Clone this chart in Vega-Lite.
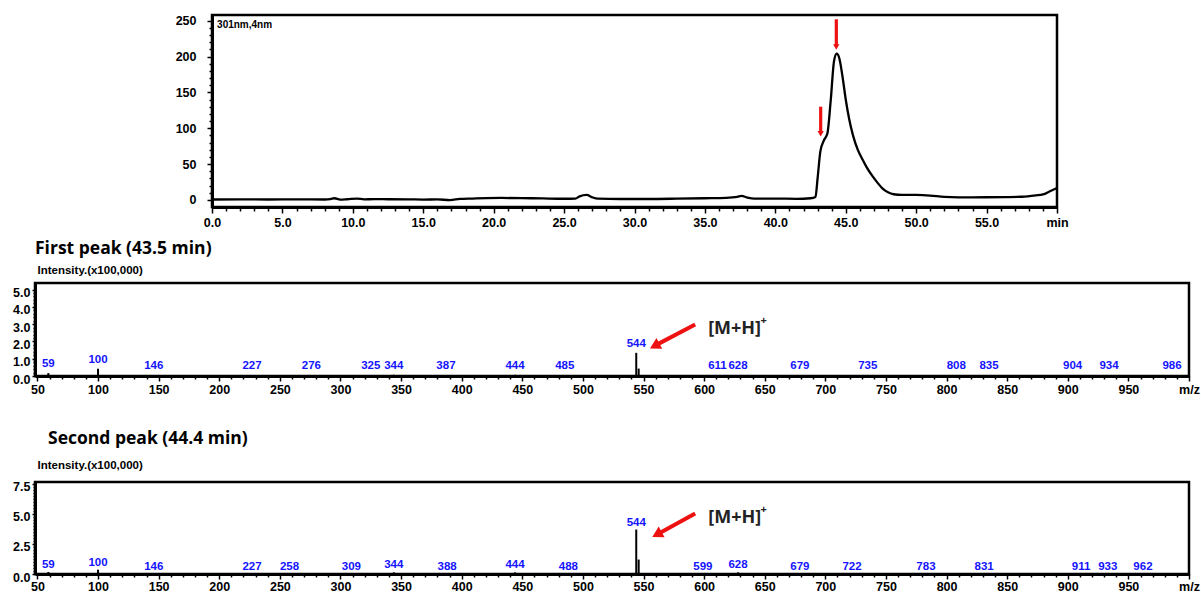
{
  "$schema": "https://vega.github.io/schema/vega-lite/v6.json",
  "padding": {"left": 11, "top": 13, "right": 0, "bottom": 0},
  "background": "white",
  "datasets": {
    "chrom": [
      {"t": 0, "v": 0.5}, {"t": 2, "v": 0.6}, {"t": 4, "v": 0.5}, {"t": 6, "v": 0.6}, {"t": 8, "v": 0.5},
      {"t": 8.4, "v": 1}, {"t": 8.7, "v": 2.2}, {"t": 9.1, "v": 0.3}, {"t": 9.6, "v": 0.8}, {"t": 10.3, "v": 1.8},
      {"t": 10.8, "v": 0.6}, {"t": 11.5, "v": 1}, {"t": 12.5, "v": 0.8}, {"t": 14, "v": 0.6}, {"t": 15, "v": 0.4},
      {"t": 16, "v": 0.6}, {"t": 16.9, "v": -0.3}, {"t": 17.6, "v": 1.2}, {"t": 18.5, "v": 1.8}, {"t": 19.5, "v": 2.4},
      {"t": 20.5, "v": 2.6}, {"t": 22, "v": 2.4}, {"t": 23.5, "v": 1.9}, {"t": 25, "v": 1.5}, {"t": 25.8, "v": 1.8},
      {"t": 26.1, "v": 4.8}, {"t": 26.6, "v": 6.8}, {"t": 27.0, "v": 3.5}, {"t": 27.4, "v": 1.6}, {"t": 29, "v": 1.2},
      {"t": 31, "v": 1.2}, {"t": 33, "v": 1.6}, {"t": 35, "v": 2.2}, {"t": 36.5, "v": 2.8}, {"t": 37.3, "v": 4.2},
      {"t": 37.6, "v": 5.5}, {"t": 38.0, "v": 3.2}, {"t": 38.5, "v": 1.6}, {"t": 40, "v": 1.8}, {"t": 41.5, "v": 1.4},
      {"t": 42.5, "v": 2.2}, {"t": 42.85, "v": 4}, {"t": 43.0, "v": 30}, {"t": 43.2, "v": 68}, {"t": 43.45, "v": 83},
      {"t": 43.7, "v": 93}, {"t": 43.93, "v": 138}, {"t": 44.17, "v": 194}, {"t": 44.36, "v": 204}, {"t": 44.55, "v": 197},
      {"t": 44.8, "v": 168}, {"t": 45.0, "v": 140}, {"t": 45.25, "v": 112}, {"t": 45.5, "v": 91}, {"t": 45.85, "v": 70},
      {"t": 46.2, "v": 56}, {"t": 46.5, "v": 45}, {"t": 46.9, "v": 33}, {"t": 47.25, "v": 24}, {"t": 47.6, "v": 16},
      {"t": 48.0, "v": 10.5}, {"t": 48.4, "v": 7.8}, {"t": 49, "v": 6.8}, {"t": 50, "v": 6.8}, {"t": 51, "v": 6},
      {"t": 52, "v": 4}, {"t": 53, "v": 3.5}, {"t": 55, "v": 3.6}, {"t": 56.5, "v": 3.8}, {"t": 57.5, "v": 4.3},
      {"t": 58.5, "v": 6.2}, {"t": 59.0, "v": 7.5}, {"t": 59.5, "v": 12}, {"t": 60, "v": 16.5}
    ],
    "chromArrows": [
      {"t": 44.33, "top": 252, "head": 213.3},
      {"t": 43.22, "top": 130, "head": 92.4}
    ],
    "peaks1": [
      {"mz": 59, "i": 0.17, "labeled": true}, {"mz": 100, "i": 0.42, "labeled": true},
      {"mz": 146, "i": 0.03, "labeled": true}, {"mz": 227, "i": 0.03, "labeled": true},
      {"mz": 276, "i": 0.03, "labeled": true}, {"mz": 325, "i": 0.03, "labeled": true},
      {"mz": 344, "i": 0.07, "labeled": true}, {"mz": 387, "i": 0.03, "labeled": true},
      {"mz": 444, "i": 0.07, "labeled": true}, {"mz": 485, "i": 0.03, "labeled": true},
      {"mz": 544, "i": 1.34, "labeled": true}, {"mz": 546, "i": 0.43, "labeled": false},
      {"mz": 611, "i": 0.03, "labeled": true}, {"mz": 628, "i": 0.03, "labeled": true},
      {"mz": 679, "i": 0.03, "labeled": true}, {"mz": 735, "i": 0.03, "labeled": true},
      {"mz": 808, "i": 0.03, "labeled": true}, {"mz": 835, "i": 0.03, "labeled": true},
      {"mz": 904, "i": 0.03, "labeled": true}, {"mz": 934, "i": 0.03, "labeled": true},
      {"mz": 986, "i": 0.03, "labeled": true}
    ],
    "peaks2": [
      {"mz": 59, "i": 0.17, "labeled": true}, {"mz": 100, "i": 0.36, "labeled": true},
      {"mz": 146, "i": 0.03, "labeled": true}, {"mz": 227, "i": 0.03, "labeled": true},
      {"mz": 258, "i": 0.03, "labeled": true}, {"mz": 309, "i": 0.03, "labeled": true},
      {"mz": 344, "i": 0.14, "labeled": true}, {"mz": 388, "i": 0.03, "labeled": true},
      {"mz": 444, "i": 0.14, "labeled": true}, {"mz": 488, "i": 0.03, "labeled": true},
      {"mz": 544, "i": 3.7, "labeled": true}, {"mz": 546, "i": 1.2, "labeled": false},
      {"mz": 599, "i": 0.03, "labeled": true}, {"mz": 628, "i": 0.14, "labeled": true},
      {"mz": 679, "i": 0.03, "labeled": true}, {"mz": 722, "i": 0.03, "labeled": true},
      {"mz": 783, "i": 0.03, "labeled": true}, {"mz": 831, "i": 0.03, "labeled": true},
      {"mz": 911, "i": 0.03, "labeled": true}, {"mz": 933, "i": 0.03, "labeled": true},
      {"mz": 962, "i": 0.03, "labeled": true}
    ],
    "arrow1": [{"mz1": 592.6, "i1": 2.98, "mz2": 560.6, "i2": 1.8, "hmz": 559.2, "hi": 1.74}],
    "arrow2": [{"mz1": 592.6, "i1": 5.04, "mz2": 562.6, "i2": 3.37, "hmz": 561.1, "hi": 3.29}],
    "ion1": [{"mz": 603.3, "i": 2.72, "sup_mz": 646.5, "sup_i": 3.2}],
    "ion2": [{"mz": 603.5, "i": 4.68, "sup_mz": 646.5, "sup_i": 5.3}]
  },
  "config": {
    "font": "Liberation Sans",
    "view": {"stroke": "black", "strokeWidth": 2.5},
    "axis": {
      "grid": false,
      "domainColor": "black",
      "domainWidth": 3,
      "tickColor": "black",
      "tickWidth": 1.5,
      "labelFont": "Liberation Sans",
      "labelFontWeight": "bold",
      "labelFontSize": 12.5,
      "labelColor": "black",
      "labelOverlap": false,
      "labelFlush": false,
      "labelBound": false
    }
  },
  "vconcat": [
    {
      "spacing": 8,
      "vconcat": [
        {
          "spacing": 0,
          "hconcat": [
            {
              "width": 138,
              "height": 10,
              "view": {"stroke": null},
              "data": {"values": []},
              "mark": "rule",
              "encoding": {}
            },
            {
              "width": 845,
              "height": 192,
              "layer": [
                {
                  "data": {"name": "chrom"},
                  "mark": {"type": "line", "color": "black", "strokeWidth": 2.3, "interpolate": "monotone"},
                  "encoding": {
                    "x": {
                      "field": "t", "type": "quantitative",
                      "scale": {"domain": [0, 60], "nice": false, "zero": false},
                      "axis": {
                        "title": null,
                        "labelOverlap": false,
                        "tickCount": 1000,
                        "values": [0,1,2,3,4,5,6,7,8,9,10,11,12,13,14,15,16,17,18,19,20,21,22,23,24,25,26,27,28,29,30,31,32,33,34,35,36,37,38,39,40,41,42,43,44,45,46,47,48,49,50,51,52,53,54,55,56,57,58,59,60],
                        "labelExpr": "datum.value === 60 ? 'min' : (datum.value % 5 === 0 ? format(datum.value, '.1f') : '')",
                        "tickSize": {"condition": {"test": "datum.value % 5 === 0", "value": 6}, "value": 4},
                        "labelPadding": 3
                      }
                    },
                    "y": {
                      "field": "v", "type": "quantitative",
                      "scale": {"domain": [-10, 258], "nice": false, "zero": false},
                      "axis": {
                        "title": null,
                        "labelOverlap": false,
                        "tickCount": 1000,
                        "values": [0,10,20,30,40,50,60,70,80,90,100,110,120,130,140,150,160,170,180,190,200,210,220,230,240,250],
                        "labelExpr": "datum.value % 50 === 0 ? format(datum.value, 'd') : ''",
                        "tickSize": {"condition": {"test": "datum.value % 50 === 0", "value": 5}, "value": 3},
                        "labelPadding": 11
                      }
                    }
                  }
                },
                {
                  "data": {"name": "chromArrows"},
                  "mark": {"type": "rule", "color": "#ee1111", "strokeWidth": 3.2},
                  "encoding": {
                    "x": {"field": "t", "type": "quantitative"},
                    "y": {"field": "top", "type": "quantitative"},
                    "y2": {"field": "head"}
                  }
                },
                {
                  "data": {"name": "chromArrows"},
                  "mark": {"type": "point", "shape": "triangle-down", "filled": true, "color": "#ee1111", "size": 40, "opacity": 1},
                  "encoding": {
                    "x": {"field": "t", "type": "quantitative"},
                    "y": {"field": "head", "type": "quantitative"}
                  }
                },
                {
                  "data": {"values": [{"t": 0.36, "v": 244, "note": "301nm,4nm"}]},
                  "mark": {"type": "text", "align": "left", "baseline": "middle", "fontSize": 10, "fontWeight": "bold", "color": "black"},
                  "encoding": {
                    "x": {"field": "t", "type": "quantitative"},
                    "y": {"field": "v", "type": "quantitative"},
                    "text": {"field": "note"}
                  }
                }
              ]
            }
          ]
        },
        {
          "width": 1154,
          "height": 93,
          "title": {"text": "First peak (43.5 min)", "anchor": "start", "frame": "group", "font": "Open Sans", "fontSize": 17.5, "fontWeight": "bold", "color": "black", "offset": 7},
          "layer": [
            {
              "data": {"name": "peaks1"},
              "mark": {"type": "rule", "color": "black", "strokeWidth": 2},
              "encoding": {
                "x": {
                  "field": "mz", "type": "quantitative",
                  "scale": {"domain": [48, 1000], "nice": false, "zero": false},
                  "axis": {
                    "title": null,
                    "labelOverlap": false,
                    "tickCount": 1000,
                    "values": [50,60,70,80,90,100,110,120,130,140,150,160,170,180,190,200,210,220,230,240,250,260,270,280,290,300,310,320,330,340,350,360,370,380,390,400,410,420,430,440,450,460,470,480,490,500,510,520,530,540,550,560,570,580,590,600,610,620,630,640,650,660,670,680,690,700,710,720,730,740,750,760,770,780,790,800,810,820,830,840,850,860,870,880,890,900,910,920,930,940,950,960,970,980,990,1000],
                    "labelExpr": "datum.value === 1000 ? 'm/z' : (datum.value % 50 === 0 ? format(datum.value, 'd') : '')",
                    "tickSize": {"condition": {"test": "datum.value % 50 === 0", "value": 5}, "value": 3},
                    "labelPadding": 2
                  }
                },
                "y": {
                  "field": "i", "type": "quantitative",
                  "scale": {"domain": [0, 5.38], "nice": false, "zero": false},
                  "axis": {
                    "title": "Intensity.(x100,000)",
                    "titleAngle": 0, "titleAlign": "left", "titleBaseline": "middle",
                    "titleX": 2, "titleY": -12.7,
                    "titleFont": "Liberation Sans", "titleFontSize": 11.5, "titleFontWeight": "bold", "titleColor": "black",
                    "labelOverlap": false,
                    "tickCount": 1000,
                    "values": [0,0.2,0.4,0.6,0.8,1,1.2,1.4,1.6,1.8,2,2.2,2.4,2.6,2.8,3,3.2,3.4,3.6,3.8,4,4.2,4.4,4.6,4.8,5],
                    "labelExpr": "abs(datum.value - round(datum.value)) < 0.000001 ? format(datum.value, '.1f') : ''",
                    "tickSize": {"condition": {"test": "abs(datum.value - round(datum.value)) < 0.000001", "value": 3}, "value": 2},
                    "labelPadding": 2,
                    "labelOffset": 3
                  }
                },
                "y2": {"datum": 0}
              }
            },
            {
              "data": {"name": "peaks1"},
              "transform": [{"filter": "datum.labeled"}],
              "mark": {"type": "text", "baseline": "bottom", "dy": -4, "fontSize": 11.5, "fontWeight": "bold", "color": "#1414ff"},
              "encoding": {
                "x": {"field": "mz", "type": "quantitative"},
                "y": {"field": "i", "type": "quantitative"},
                "text": {"field": "mz", "type": "quantitative", "format": "d"}
              }
            },
            {
              "data": {"name": "arrow1"},
              "mark": {"type": "rule", "color": "#ee1111", "strokeWidth": 4},
              "encoding": {
                "x": {"field": "mz1", "type": "quantitative"},
                "x2": {"field": "mz2"},
                "y": {"field": "i1", "type": "quantitative"},
                "y2": {"field": "i2"}
              }
            },
            {
              "data": {"name": "arrow1"},
              "mark": {"type": "point", "shape": "triangle-up", "angle": 242, "filled": true, "color": "#ee1111", "size": 150, "opacity": 1},
              "encoding": {
                "x": {"field": "hmz", "type": "quantitative"},
                "y": {"field": "hi", "type": "quantitative"}
              }
            },
            {
              "data": {"name": "ion1"},
              "mark": {"type": "text", "text": "[M+H]", "align": "left", "baseline": "middle", "font": "Open Sans", "fontSize": 18, "fontWeight": "bold", "color": "#222222"},
              "encoding": {
                "x": {"field": "mz", "type": "quantitative"},
                "y": {"field": "i", "type": "quantitative"}
              }
            },
            {
              "data": {"name": "ion1"},
              "mark": {"type": "text", "text": "+", "align": "left", "baseline": "middle", "font": "Open Sans", "fontSize": 11, "fontWeight": "bold", "color": "#222222"},
              "encoding": {
                "x": {"field": "sup_mz", "type": "quantitative"},
                "y": {"field": "sup_i", "type": "quantitative"}
              }
            }
          ]
        }
      ]
    },
    {
      "width": 1154,
      "height": 92,
      "title": {"text": "Second peak (44.4 min)", "anchor": "start", "frame": "group", "dx": 13, "font": "Open Sans", "fontSize": 17.5, "fontWeight": "bold", "color": "black", "offset": 12},
      "layer": [
        {
          "data": {"name": "peaks2"},
          "mark": {"type": "rule", "color": "black", "strokeWidth": 2},
          "encoding": {
            "x": {
              "field": "mz", "type": "quantitative",
              "scale": {"domain": [48, 1000], "nice": false, "zero": false},
              "axis": {
                "title": null,
                "labelOverlap": false,
                "tickCount": 1000,
                "values": [50,60,70,80,90,100,110,120,130,140,150,160,170,180,190,200,210,220,230,240,250,260,270,280,290,300,310,320,330,340,350,360,370,380,390,400,410,420,430,440,450,460,470,480,490,500,510,520,530,540,550,560,570,580,590,600,610,620,630,640,650,660,670,680,690,700,710,720,730,740,750,760,770,780,790,800,810,820,830,840,850,860,870,880,890,900,910,920,930,940,950,960,970,980,990,1000],
                "labelExpr": "datum.value === 1000 ? 'm/z' : (datum.value % 50 === 0 ? format(datum.value, 'd') : '')",
                "tickSize": {"condition": {"test": "datum.value % 50 === 0", "value": 5}, "value": 3},
                "labelPadding": 1
              }
            },
            "y": {
              "field": "i", "type": "quantitative",
              "scale": {"domain": [0, 7.65], "nice": false, "zero": false},
              "axis": {
                "title": "Intensity.(x100,000)",
                "titleAngle": 0, "titleAlign": "left", "titleBaseline": "middle",
                "titleX": 2, "titleY": -16.7,
                "titleFont": "Liberation Sans", "titleFontSize": 11.5, "titleFontWeight": "bold", "titleColor": "black",
                "labelOverlap": false,
                "tickCount": 1000,
                "values": [0,0.25,0.5,0.75,1,1.25,1.5,1.75,2,2.25,2.5,2.75,3,3.25,3.5,3.75,4,4.25,4.5,4.75,5,5.25,5.5,5.75,6,6.25,6.5,6.75,7,7.25,7.5],
                "labelExpr": "datum.value % 2.5 === 0 ? format(datum.value, '.1f') : ''",
                "tickSize": {"condition": {"test": "datum.value % 2.5 === 0", "value": 3}, "value": 2},
                "labelPadding": 2,
                "labelOffset": 3
              }
            },
            "y2": {"datum": 0}
          }
        },
        {
          "data": {"name": "peaks2"},
          "transform": [{"filter": "datum.labeled"}],
          "mark": {"type": "text", "baseline": "bottom", "dy": -2, "fontSize": 11.5, "fontWeight": "bold", "color": "#1414ff"},
          "encoding": {
            "x": {"field": "mz", "type": "quantitative"},
            "y": {"field": "i", "type": "quantitative"},
            "text": {"field": "mz", "type": "quantitative", "format": "d"}
          }
        },
        {
          "data": {"name": "arrow2"},
          "mark": {"type": "rule", "color": "#ee1111", "strokeWidth": 4},
          "encoding": {
            "x": {"field": "mz1", "type": "quantitative"},
            "x2": {"field": "mz2"},
            "y": {"field": "i1", "type": "quantitative"},
            "y2": {"field": "i2"}
          }
        },
        {
          "data": {"name": "arrow2"},
          "mark": {"type": "point", "shape": "triangle-up", "angle": 241, "filled": true, "color": "#ee1111", "size": 150, "opacity": 1},
          "encoding": {
            "x": {"field": "hmz", "type": "quantitative"},
            "y": {"field": "hi", "type": "quantitative"}
          }
        },
        {
          "data": {"name": "ion2"},
          "mark": {"type": "text", "text": "[M+H]", "align": "left", "baseline": "middle", "font": "Open Sans", "fontSize": 18, "fontWeight": "bold", "color": "#222222"},
          "encoding": {
            "x": {"field": "mz", "type": "quantitative"},
            "y": {"field": "i", "type": "quantitative"}
          }
        },
        {
          "data": {"name": "ion2"},
          "mark": {"type": "text", "text": "+", "align": "left", "baseline": "middle", "font": "Open Sans", "fontSize": 11, "fontWeight": "bold", "color": "#222222"},
          "encoding": {
            "x": {"field": "sup_mz", "type": "quantitative"},
            "y": {"field": "sup_i", "type": "quantitative"}
          }
        }
      ]
    }
  ],
  "spacing": 31
}
